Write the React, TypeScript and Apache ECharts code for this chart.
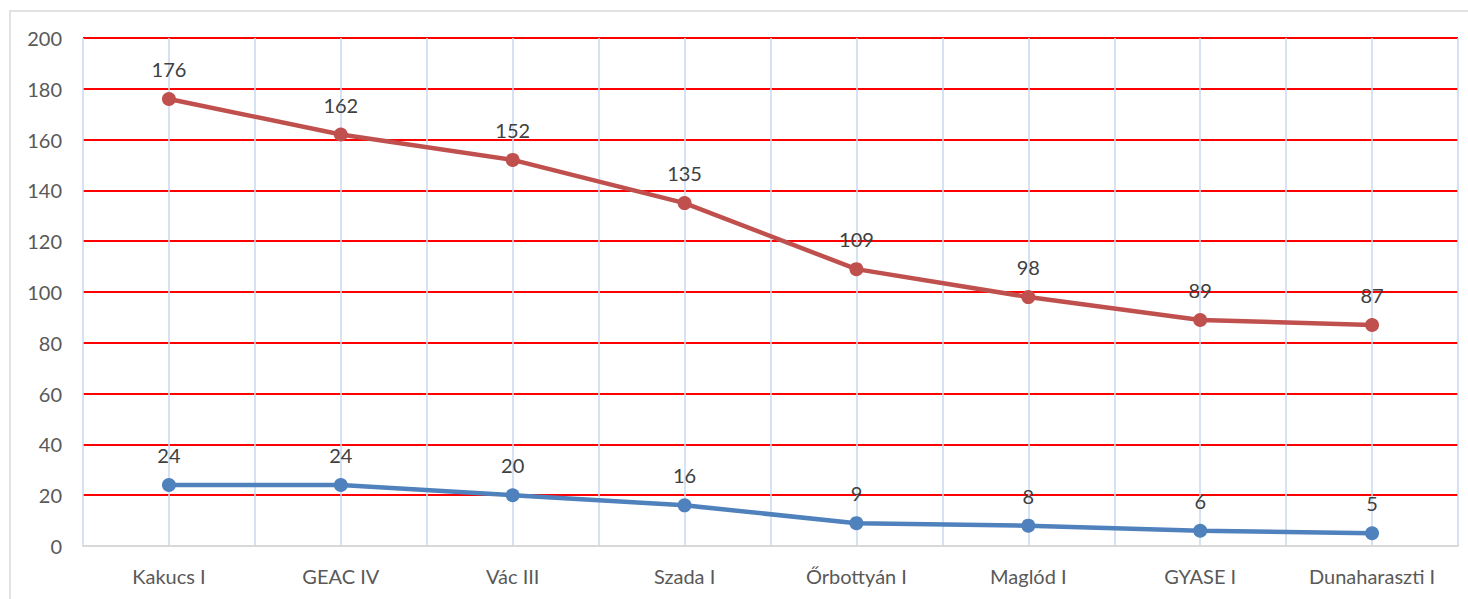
import React, { useEffect, useRef } from "react";
import * as echarts from "echarts";

const categories = ["Kakucs I", "GEAC IV", "Vác III", "Szada I", "Őrbottyán I", "Maglód I", "GYASE I", "Dunaharaszti I"];
const redValues = [176, 162, 152, 135, 109, 98, 89, 87];
const blueValues = [24, 24, 20, 16, 9, 8, 6, 5];
const yTicks = { min: 0, max: 200, interval: 20 };

const FONT = "Lato, 'Liberation Sans', sans-serif";

export default function App() {
  const ref = useRef<HTMLDivElement>(null);
  useEffect(() => {
    document.body.style.margin = "0";
    const chart = echarts.init(ref.current!, null, { renderer: "svg" });
    const labelStyle = {
      show: true,
      position: "top",
      distance: 13,
      fontSize: 20,
      color: "#404040",
      fontFamily: FONT,
    };
    chart.setOption({
      animation: false,
      backgroundColor: "#ffffff",
      graphic: [
        {
          type: "rect",
          shape: { x: 10, y: 11, width: 1600, height: 800 },
          style: { fill: "none", stroke: "#d9d9d9", lineWidth: 1.5 },
          z: -10,
        },
      ],
      grid: { left: 83, right: 10, top: 38, bottom: 53, containLabel: false },
      xAxis: [
        {
          type: "category",
          data: categories,
          boundaryGap: true,
          axisLine: { show: true, lineStyle: { color: "#d9d9d9", width: 2 } },
          axisTick: { show: false },
          splitLine: { show: false },
          axisLabel: { margin: 20, fontSize: 20, color: "#595959", fontFamily: FONT, interval: 0 },
          z: 5,
        },
        {
          type: "value",
          min: 0,
          max: categories.length * 2,
          interval: 1,
          show: true,
          position: "bottom",
          axisLine: { show: false },
          axisTick: { show: false },
          axisLabel: { show: false },
          splitLine: { show: true, lineStyle: { color: "#c6d9f1", width: 1.5 } },
        },
      ],
      yAxis: {
        type: "value",
        min: yTicks.min,
        max: yTicks.max,
        interval: yTicks.interval,
        axisLine: { show: false },
        axisTick: { show: false },
        axisLabel: { margin: 21, fontSize: 20, color: "#595959", fontFamily: FONT },
        splitLine: { show: true, lineStyle: { color: "#ff0000", width: 2 } },
      },
      series: [
        {
          type: "line",
          xAxisIndex: 0,
          data: redValues,
          symbol: "circle",
          symbolSize: 14,
          lineStyle: { color: "#c0504d", width: 4.5 },
          itemStyle: { color: "#c0504d" },
          label: labelStyle,
          z: 10,
        },
        {
          type: "line",
          xAxisIndex: 0,
          data: blueValues,
          symbol: "circle",
          symbolSize: 14,
          lineStyle: { color: "#4f81bd", width: 4.5 },
          itemStyle: { color: "#4f81bd" },
          label: labelStyle,
          z: 10,
        },
      ],
    });
    return () => chart.dispose();
  }, []);
  return <div ref={ref} style={{ width: 1468, height: 599 }} />;
}
